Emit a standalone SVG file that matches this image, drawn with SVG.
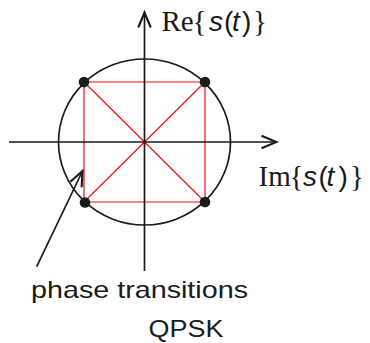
<svg xmlns="http://www.w3.org/2000/svg" width="370" height="343" viewBox="0 0 370 343">
<style>
.ax{stroke:#1a1a1a;stroke-width:1.7;fill:none}
.red{stroke:#ee1111;stroke-width:1.2;fill:none}
.dot{fill:#1a1a1a}
.serif{font-family:"Liberation Serif","Times New Roman",serif;font-size:29px;fill:#1a1a1a}
.sans{font-family:"Liberation Sans",Arial,sans-serif;font-size:28px;fill:#1a1a1a}
.it{font-style:italic}
.lbl{font-family:"Liberation Sans",Arial,sans-serif;font-size:24px;fill:#1a1a1a}
</style>
<defs>
<marker id="arr" markerUnits="userSpaceOnUse" markerWidth="20" markerHeight="20" viewBox="-14 -8 16 16" refX="0" refY="0" orient="auto">
<path d="M-12,-5 L0,0 L-12,5" fill="none" stroke="#1a1a1a" stroke-width="1.7"/>
</marker>
</defs>
<rect width="370" height="343" fill="#fff"/>
<g id="circle">
<ellipse class="ax" cx="144.5" cy="142" rx="86" ry="83"/>
</g>
<g id="transitions">
<path class="red" d="M84,82 H205 V202 H84 Z M84,82 L205,202 M205,82 L84,202"/>
</g>
<g id="connectors">
<line class="ax" x1="144.5" y1="271" x2="144.5" y2="12.5" marker-end="url(#arr)"/>
<line class="ax" x1="9" y1="142" x2="276.5" y2="142" marker-end="url(#arr)"/>
<line class="ax" x1="36.7" y1="266.7" x2="82.5" y2="171" marker-end="url(#arr)"/>
</g>
<g id="points">
<circle class="dot" cx="84" cy="82" r="5.3"/>
<circle class="dot" cx="205" cy="82" r="5.3"/>
<circle class="dot" cx="85" cy="202.5" r="5.3"/>
<circle class="dot" cx="205" cy="202" r="5.3"/>
</g>
<g id="label-re">
<text class="serif" x="161.5" y="30.5">Re</text>
<text class="serif" x="192.5" y="30.5">{</text>
<text class="sans it" x="209" y="30.5">s</text>
<text class="sans" x="224" y="30.5">(</text>
<text class="sans it" x="232" y="30.5">t</text>
<text class="sans" x="242" y="30.5">)</text>
<text class="serif" x="253" y="30.5">}</text>
</g>
<g id="label-im">
<text class="serif" x="258.5" y="185.5">Im</text>
<text class="serif" x="289.5" y="185.5">{</text>
<text class="sans it" x="303" y="185.5">s</text>
<text class="sans" x="318.5" y="185.5">(</text>
<text class="sans it" x="326.5" y="185.5">t</text>
<text class="sans" x="338.5" y="185.5">)</text>
<text class="serif" x="350" y="185.5">}</text>
</g>
<g id="label-phase">
<text class="lbl" x="31" y="298.3" textLength="217" lengthAdjust="spacingAndGlyphs">phase transitions</text>
</g>
<g id="label-qpsk">
<text class="lbl" x="148.5" y="337.3" textLength="75" lengthAdjust="spacingAndGlyphs">QPSK</text>
</g>
</svg>
